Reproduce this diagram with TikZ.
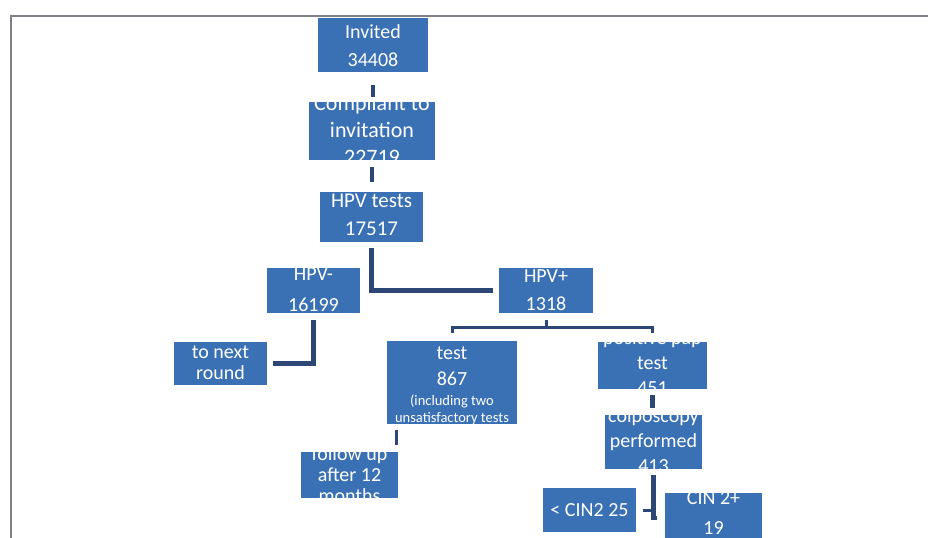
\documentclass[tikz,border=0pt]{standalone}
\usepackage{fontspec}
\setmainfont{Carlito}
\usetikzlibrary{calc}
\definecolor{boxblue}{RGB}{58,112,180}
\definecolor{connblue}{RGB}{44,70,118}
\definecolor{framegray}{RGB}{125,128,132}
\tikzset{
  box/.style={fill=boxblue, draw=none, inner sep=0pt},
  txt/.style={text=white, align=center, inner sep=0pt, font=\fontsize{21}{28}\selectfont},
  conn/.style={draw=connblue, line width=4.5pt},
  thinconn/.style={draw=connblue, line width=3pt},
}
\newcommand{\fs}[2]{\fontsize{#1}{#2}\selectfont}
\begin{document}
\begin{tikzpicture}[x=1pt,y=-1pt]
\useasboundingbox (0,0) rectangle (943,538);
\fill[white] (0,0) rectangle (943,538);
% frame
\draw[framegray, line width=1.5pt] (11,538) -- (11,16) -- (928,16);

% boxes
\node[box, minimum width=110pt, minimum height=54pt] (inv) at (373,45) {};
\node[box, minimum width=126pt, minimum height=58pt] (comp) at (372,131) {};
\node[box, minimum width=103pt, minimum height=50pt] (hpvt) at (371.5,217) {};
\node[box, minimum width=93pt, minimum height=45pt] (hpvm) at (313.5,290.5) {};
\node[box, minimum width=94pt, minimum height=45pt] (hpvp) at (546,290.5) {};
\node[box, minimum width=93pt, minimum height=43pt] (next) at (220.5,363.5) {};
\node[box, minimum width=130pt, minimum height=83pt] (test) at (452,382.5) {};
\node[box, minimum width=97pt, minimum height=46pt] (fup) at (349.5,475) {};
\node[box, minimum width=109pt, minimum height=47pt] (pap) at (652.5,365.5) {};
\node[box, minimum width=97pt, minimum height=54pt] (colp) at (653.5,442) {};
\node[box, minimum width=93pt, minimum height=44pt] (lt) at (589.5,510) {};
\node[box, minimum width=97pt, minimum height=50pt] (cin) at (713.5,518) {};

% texts, clipped by their boxes
\begin{scope}\clip (inv.south west) rectangle (inv.north east);
\node[txt, font=\fs{20}{28}] (invt) at (373,46) {Invited\\34408};\end{scope}
\begin{scope}\clip (comp.south west) rectangle (comp.north east);
\node[txt, font=\fs{22}{27}] (compt) at (372,130) {Compliant to\\invitation\\22719};\end{scope}
\begin{scope}\clip (hpvt.south west) rectangle (hpvt.north east);
\node[txt, font=\fs{21}{28}] (hpvtt) at (371.5,215) {HPV tests\\17517};\end{scope}
\begin{scope}\clip (hpvm.south west) rectangle (hpvm.north east);
\node[txt, font=\fs{20}{31}] (hpvmt) at (313.5,290) {HPV-\\16199};\end{scope}
\begin{scope}\clip (hpvp.south west) rectangle (hpvp.north east);
\node[txt, font=\fs{20}{28}] (hpvpt) at (546,290) {HPV+\\1318};\end{scope}
\begin{scope}\clip (next.south west) rectangle (next.north east);
\node[txt, font=\fs{20}{21}] (nextt) at (220.5,363) {to next\\round};\end{scope}
\begin{scope}\clip (test.south west) rectangle (test.north east);
\node[txt, font=\fs{20}{26}] (testt) at (452,366) {test\\867};
\node[txt, font=\fs{14.5}{17}] (tests) at (452,410) {(including two\\unsatisfactory tests};\end{scope}
\begin{scope}\clip (fup.south west) rectangle (fup.north east);
\node[txt, font=\fs{20}{21}] (fupt) at (349.5,475) {follow up\\after 12\\months};\end{scope}
\begin{scope}\clip (pap.south west) rectangle (pap.north east);
\node[txt, font=\fs{20}{25}] (papt) at (652.5,363) {positive pap\\test\\451};\end{scope}
\begin{scope}\clip (colp.south west) rectangle (colp.north east);
\node[txt, font=\fs{20}{25}] (colpt) at (653.5,441) {colposcopy\\performed\\413};\end{scope}
\begin{scope}\clip (lt.south west) rectangle (lt.north east);
\node[txt, font=\fs{20}{24}] (ltt) at (589.5,510) {< CIN2 25};\end{scope}
\begin{scope}\clip (cin.south west) rectangle (cin.north east);
\node[txt, font=\fs{20}{30}] (cint) at (713.5,513) {CIN 2+\\19};\end{scope}

% connectors
\draw[conn, shorten <=13pt, shorten >=5pt] (inv.south) -- (inv.south |- comp.north);
\draw[conn, shorten <=7pt, shorten >=10pt] (comp.south) -- (comp.south |- hpvt.north);
\draw[conn, shorten <=6pt, shorten >=6pt] (hpvt.south) |- (hpvp.west);
\draw[conn, shorten <=7pt, shorten >=6pt] (hpvm.south) |- (next.east);
\coordinate (by) at (0,327);
\draw[thinconn, shorten <=7pt] (hpvp.south) -- (hpvp.south |- by);
\draw[thinconn, shorten <=8pt, shorten >=9pt] (test.north) -- (test.north |- by) -- (pap.north |- by) -- (pap.north);
\draw[thinconn, shorten <=6pt, shorten >=7pt] ([xshift=10pt]test.south west) -- ([xshift=10pt]test.south west |- fup.north);
\draw[conn, shorten <=6pt, shorten >=7pt] (pap.south) -- (pap.south |- colp.north);
\draw[conn, shorten <=6pt, shorten >=8pt] (colp.south) |- (cin.west);
\draw[thinconn, shorten >=7pt] (colp.south |- lt.east) -- (lt.east);
\end{tikzpicture}
\end{document}
